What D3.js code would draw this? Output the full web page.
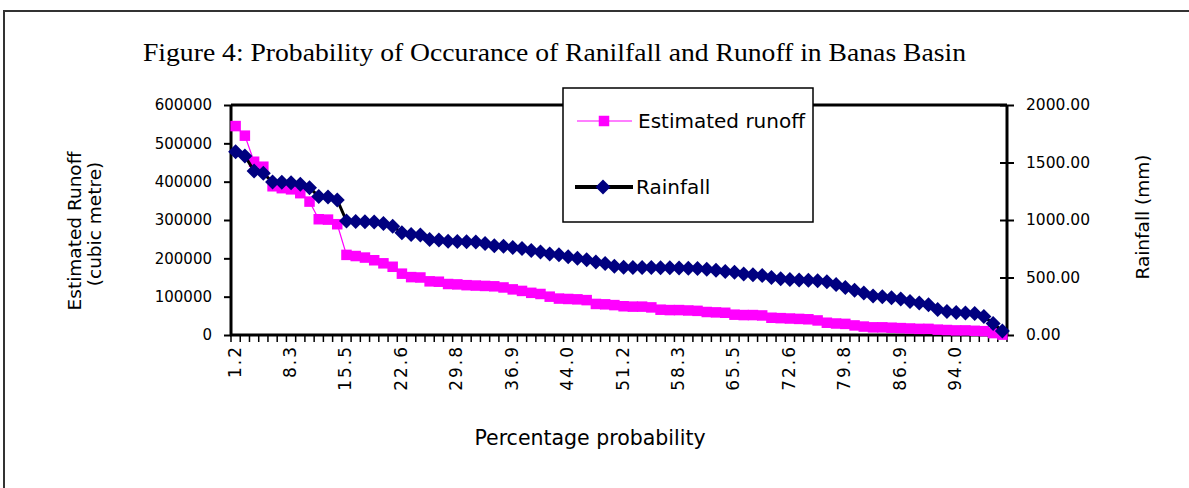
<!DOCTYPE html>
<html>
<head>
<meta charset="utf-8">
<script src="https://cdn.jsdelivr.net/npm/d3@7"></script>
<style>
  html, body { margin: 0; padding: 0; background: #ffffff; }
  svg { display: block; }
</style>
</head>
<body>
<svg id="chart" width="1189" height="488"></svg>
<script>
// Exceedance probability (%) of each ranked year
const probability = [
  1.2, 2.4, 3.6, 4.8, 6.0, 7.1, 8.3, 9.5, 10.7, 11.9, 13.1, 14.3,
  15.5, 16.7, 17.9, 19.0, 20.2, 21.4, 22.6, 23.8, 25.0, 26.2, 27.4, 28.6,
  29.8, 31.0, 32.1, 33.3, 34.5, 35.7, 36.9, 38.1, 39.3, 40.5, 41.7, 42.9,
  44.0, 45.2, 46.4, 47.6, 48.8, 50.0, 51.2, 52.4, 53.6, 54.8, 56.0, 57.1,
  58.3, 59.5, 60.7, 61.9, 63.1, 64.3, 65.5, 66.7, 67.9, 69.0, 70.2, 71.4,
  72.6, 73.8, 75.0, 76.2, 77.4, 78.6, 79.8, 81.0, 82.1, 83.3, 84.5, 85.7,
  86.9, 88.1, 89.3, 90.5, 91.7, 92.9, 94.0, 95.2, 96.4, 97.6, 98.8, 100.0
];

// Estimated runoff (cubic metre), ranked
const runoff = [
  545000, 520000, 452000, 439000, 388000, 383000, 380000, 370000, 348000, 302000, 301000, 289000,
  209000, 206000, 202000, 195000, 187000, 178000, 160000, 151000, 150000, 140000, 139000, 133000,
  132000, 130000, 129000, 128000, 127000, 124000, 119000, 115000, 110000, 107000, 100000, 95000,
  94000, 93000, 91000, 81000, 80000, 78000, 75000, 74000, 74000, 72000, 66000, 65000,
  65000, 64000, 63000, 60000, 59000, 58000, 53000, 52000, 52000, 51000, 45000, 44000,
  43000, 42000, 41000, 38000, 32000, 30000, 29000, 25000, 22000, 20000, 20000, 19000,
  18000, 17000, 16000, 16000, 14000, 13000, 12000, 12000, 11000, 10000, 5000, 1000
];

// Rainfall (mm), ranked
const rainfall = [
  1594, 1557, 1426, 1406, 1330, 1328, 1325, 1310, 1281, 1205, 1200, 1174,
  991, 988, 985, 983, 970, 945, 890, 875, 870, 830, 826, 815,
  812, 811, 808, 795, 777, 772, 760, 752, 735, 722, 705, 698,
  680, 667, 655, 635, 622, 598, 590, 588, 587, 586, 585, 584,
  583, 581, 578, 572, 562, 553, 545, 530, 525, 518, 500, 490,
  482, 479, 477, 472, 462, 440, 412, 390, 365, 340, 333, 325,
  312, 292, 278, 262, 222, 205, 195, 192, 188, 160, 100, 35
];

// Category labels printed on the x axis
const xTickLabels = ["1.2", "8.3", "15.5", "22.6", "29.8", "36.9", "44.0",
                     "51.2", "58.3", "65.5", "72.6", "79.8", "86.9", "94.0"];
const leftTicks = [0, 100000, 200000, 300000, 400000, 500000, 600000];
const rightTicks = [0, 500, 1000, 1500, 2000];

const titleText = "Figure 4: Probability of Occurance of Ranilfall and Runoff in Banas Basin";
const seriesNames = ["Estimated runoff", "Rainfall"];

const svg = d3.select("#chart");
const sansFont = "'DejaVu Sans', Verdana, sans-serif";

// Frame around the whole figure
svg.append("rect")
  .attr("x", 4).attr("y", 11).attr("width", 1200).attr("height", 500)
  .attr("fill", "#ffffff").attr("stroke", "#333333").attr("stroke-width", 2);

// Title
svg.append("text")
  .attr("x", 143).attr("y", 61)
  .attr("font-family", "'Liberation Serif', 'Times New Roman', serif")
  .attr("font-size", 25)
  .attr("textLength", 823).attr("lengthAdjust", "spacingAndGlyphs")
  .attr("fill", "#000")
  .text(titleText);

const plot = { left: 231, right: 1007, top: 105, bottom: 335 };

const cats = probability.map(d => d.toFixed(1));
const x = d3.scaleBand().domain(cats).range([plot.left, plot.right]).paddingInner(0).paddingOuter(0);
const yL = d3.scaleLinear().domain([0, 600000]).range([plot.bottom, plot.top]);
const yR = d3.scaleLinear().domain([0, 2000]).range([plot.bottom, plot.top]);
const cx = (d, i) => x(cats[i]) + x.bandwidth() / 2;

// Plot area border (top edge)
svg.append("line")
  .attr("x1", plot.left).attr("x2", plot.right)
  .attr("y1", plot.top).attr("y2", plot.top)
  .attr("stroke", "#000").attr("stroke-width", 3);

// Left axis
const leftAxis = svg.append("g")
  .attr("transform", `translate(${plot.left},0)`)
  .call(d3.axisLeft(yL).tickValues(leftTicks).tickSize(7).tickPadding(12).tickFormat(d3.format("d")));
leftAxis.select(".domain").attr("stroke-width", 3).attr("d", `M0,${plot.top}V${plot.bottom}`);
leftAxis.selectAll(".tick line").attr("stroke-width", 2);
leftAxis.selectAll(".tick text").attr("font-family", sansFont).attr("font-size", 15).attr("fill", "#000");

// Right axis (ticks cross the axis line)
const rightAxis = svg.append("g")
  .attr("transform", `translate(${plot.right},0)`)
  .call(d3.axisRight(yR).tickValues(rightTicks).tickSize(7).tickPadding(12).tickFormat(d3.format(".2f")));
rightAxis.select(".domain").attr("stroke-width", 3).attr("d", `M0,${plot.top}V${plot.bottom}`);
rightAxis.selectAll(".tick line").attr("stroke-width", 2).attr("x1", -7);
rightAxis.selectAll(".tick text").attr("font-family", sansFont).attr("font-size", 15.5).attr("fill", "#000");

// Bottom axis: tick marks between categories, labels every sixth category
const boundaries = cats.map(c => x(c)).concat([plot.right]);
const bottom = svg.append("g");
bottom.append("line")
  .attr("x1", plot.left - 1).attr("x2", plot.right + 1)
  .attr("y1", plot.bottom).attr("y2", plot.bottom)
  .attr("stroke", "#000").attr("stroke-width", 3);
bottom.selectAll("line.tk").data(boundaries).join("line")
  .attr("class", "tk")
  .attr("x1", d => d).attr("x2", d => d)
  .attr("y1", plot.bottom).attr("y2", plot.bottom + 7)
  .attr("stroke", "#000").attr("stroke-width", 1.5);
bottom.selectAll("text").data(xTickLabels).join("text")
  .attr("transform", d => `translate(${x(d) + x.bandwidth() / 2 + 5},${plot.bottom + 10}) rotate(-90)`)
  .attr("text-anchor", "end")
  .attr("font-family", sansFont).attr("font-size", 17).attr("letter-spacing", 2).attr("fill", "#000")
  .text(d => d);

// Axis titles
svg.append("text")
  .attr("transform", `translate(81,231) rotate(-90)`)
  .attr("text-anchor", "middle")
  .attr("font-family", sansFont).attr("font-size", 18.5).attr("fill", "#000")
  .text("Estimated Runoff");
svg.append("text")
  .attr("transform", `translate(101,224) rotate(-90)`)
  .attr("text-anchor", "middle")
  .attr("font-family", sansFont).attr("font-size", 18.5).attr("fill", "#000")
  .text("(cubic metre)");
svg.append("text")
  .attr("transform", `translate(1149,217) rotate(-90)`)
  .attr("text-anchor", "middle")
  .attr("font-family", sansFont).attr("font-size", 18.5).attr("fill", "#000")
  .text("Rainfall (mm)");
svg.append("text")
  .attr("x", 590).attr("y", 445)
  .attr("text-anchor", "middle")
  .attr("font-family", sansFont).attr("font-size", 20.5).attr("fill", "#000")
  .text("Percentage probability");

// Estimated runoff: thin magenta line with square markers
const runoffLine = d3.line().x(cx).y(d => yL(d));
svg.append("path").datum(runoff)
  .attr("d", runoffLine)
  .attr("fill", "none").attr("stroke", "#ff00ff").attr("stroke-width", 1.2);
const sq = 10.5;
svg.selectAll("rect.runoff").data(runoff).join("rect")
  .attr("class", "runoff")
  .attr("x", (d, i) => cx(d, i) - sq / 2).attr("y", d => yL(d) - sq / 2)
  .attr("width", sq).attr("height", sq)
  .attr("fill", "#ff00ff");

// Rainfall: heavy black line with navy diamond markers
const rainLine = d3.line().x(cx).y(d => yR(d));
svg.append("path").datum(rainfall)
  .attr("d", rainLine)
  .attr("fill", "none").attr("stroke", "#000").attr("stroke-width", 3);
const dm = 7.5;
const diamond = `M0,${-dm}L${dm},0L0,${dm}L${-dm},0Z`;
svg.selectAll("path.rain").data(rainfall).join("path")
  .attr("class", "rain")
  .attr("transform", (d, i) => `translate(${cx(d, i)},${yR(d)})`)
  .attr("d", diamond)
  .attr("fill", "#000080");

// Legend
const lg = svg.append("g");
lg.append("rect")
  .attr("x", 563).attr("y", 88).attr("width", 250).attr("height", 134)
  .attr("fill", "#ffffff").attr("stroke", "#000").attr("stroke-width", 1.5);
lg.append("line")
  .attr("x1", 577).attr("x2", 632).attr("y1", 121).attr("y2", 121)
  .attr("stroke", "#ff00ff").attr("stroke-width", 1.2);
lg.append("rect")
  .attr("x", 604 - sq / 2).attr("y", 121 - sq / 2).attr("width", sq).attr("height", sq)
  .attr("fill", "#ff00ff");
lg.append("text")
  .attr("x", 638).attr("y", 128)
  .attr("font-family", sansFont).attr("font-size", 20).attr("fill", "#000")
  .text(seriesNames[0]);
lg.append("line")
  .attr("x1", 575).attr("x2", 633).attr("y1", 187).attr("y2", 187)
  .attr("stroke", "#000").attr("stroke-width", 4);
lg.append("path")
  .attr("transform", "translate(603,187)")
  .attr("d", diamond).attr("fill", "#000080");
lg.append("text")
  .attr("x", 636).attr("y", 194)
  .attr("font-family", sansFont).attr("font-size", 20).attr("fill", "#000")
  .text(seriesNames[1]);
</script>
</body>
</html>
